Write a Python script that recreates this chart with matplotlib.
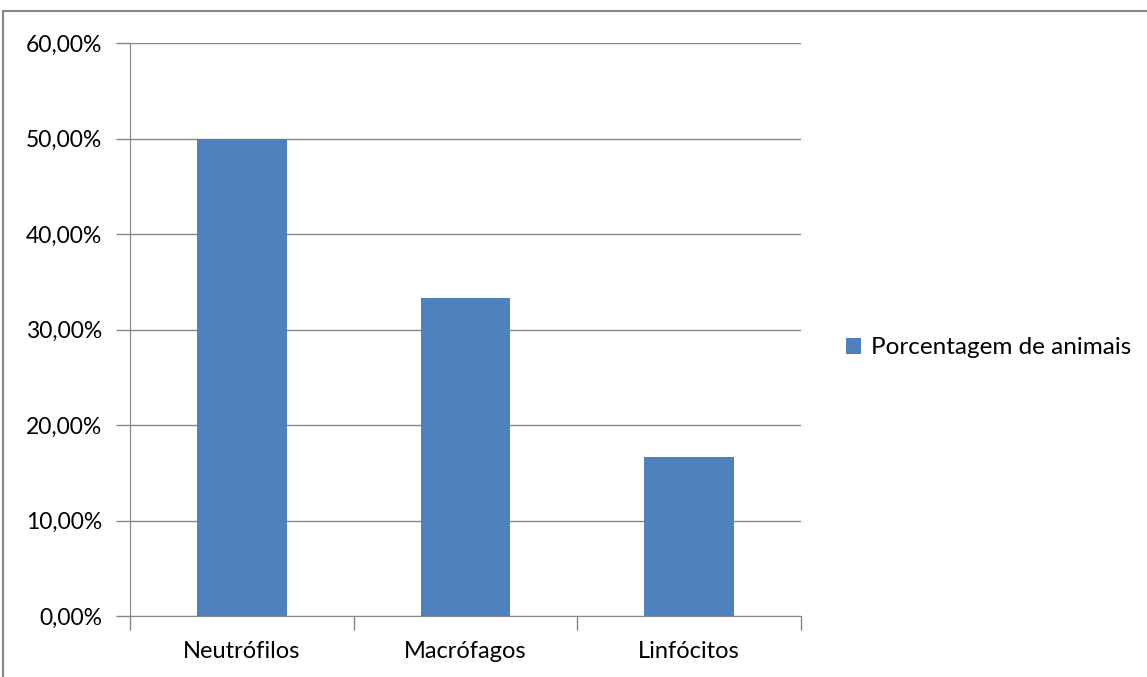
import matplotlib.pyplot as plt
from matplotlib.patches import Rectangle
from matplotlib.ticker import FuncFormatter

categories = ['Neutrófilos', 'Macrófagos', 'Linfócitos']
values = [0.50, 0.3333, 0.1667]
series_name = 'Porcentagem de animais'
yticks = [0, 0.1, 0.2, 0.3, 0.4, 0.5, 0.6]

plt.rcParams['font.family'] = ['Lato', 'DejaVu Sans']

W, H = 1147, 677
fig = plt.figure(figsize=(W / 100, H / 100), dpi=100)
ax = fig.add_axes([130 / W, 1 - 616 / H, (801 - 130) / W, (616 - 43) / H])

# outer chart border
fig.patches.append(Rectangle((3 / W, -0.05), 1.1, 1 - 11 / H + 0.05,
                             transform=fig.transFigure, fill=False,
                             edgecolor='#868686', linewidth=1.5))

x = range(len(categories))
ax.bar(x, values, width=0.40, color='#4F81BD', label=series_name, zorder=3)

ax.set_xlim(-0.5, len(categories) - 0.5)
ax.set_ylim(0, 0.6)
ax.set_yticks(yticks)
ax.yaxis.set_major_formatter(FuncFormatter(lambda v, p: f'{v * 100:.2f}%'.replace('.', ',')))
ax.grid(axis='y', color='#868686', linewidth=1, zorder=0)

ax.set_xticks([i - 0.5 for i in range(len(categories) + 1)], minor=False)
ax.set_xticklabels([])
ax.set_xticks(list(x), minor=True)
ax.set_xticklabels(categories, minor=True)
ax.tick_params(axis='x', which='minor', length=0, pad=18, labelsize=17)
ax.tick_params(axis='x', which='major', length=10, color='#868686', width=1)
ax.tick_params(axis='y', length=10, color='#868686', width=1, labelsize=16.5, pad=10)

for side in ['top', 'right']:
    ax.spines[side].set_visible(False)
for side in ['left', 'bottom']:
    ax.spines[side].set_color('#868686')

ax.legend(loc='center left', bbox_to_anchor=(824 / W, 1 - 348 / H),
          bbox_transform=fig.transFigure, frameon=False, fontsize=17.5,
          handlelength=0.62, handleheight=0.62, handletextpad=0.4)

fig.savefig('out.png', dpi=100)
